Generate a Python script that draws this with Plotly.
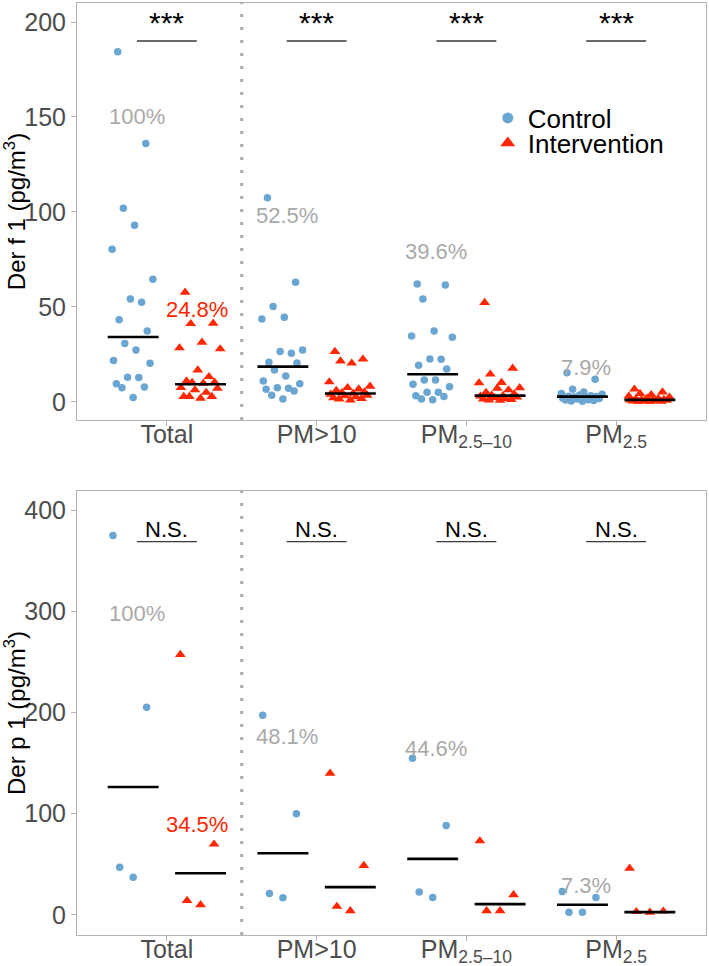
import plotly.graph_objects as go

# ---------------- data ----------------
categories = ["Total", "PM>10", "PM2.5-10", "PM2.5"]
tick_labels = ["Total", "PM&gt;10", "PM<sub>2.5\u201310</sub>", "PM<sub>2.5</sub>"]

# Der f 1 (pg/m3)
derf1_control_total = [184.4, 136, 102, 93, 80.4, 64.6, 54.2, 52.5, 43.2, 37.4, 30.7, 27.4, 21.8, 20.4, 13.0, 12.8, 9.6, 7.4, 7.9, 2.3]
derf1_interv_total = [57.7, 41.4, 41.2, 31.4, 28.4, 27.9, 16.8, 13.3, 11.0, 10.4, 10.2, 9.8, 7.5, 7.2, 6.3, 5.0, 2.8, 2.8, 2.8, 1.9]
derf1_control_pm10 = [107.5, 63, 50.2, 44.6, 43.7, 27.4, 26.5, 25.6, 20.9, 20.5, 16.8, 13.7, 11.0, 9.6, 7.5, 7.2, 6.7, 5.8, 3.5, 1.6]
derf1_interv_pm10 = [26.5, 22.5, 21.5, 20.4, 10.5, 8.2, 7.5, 6.8, 6.0, 5.2, 4.8, 4.5, 4.0, 3.5, 3.2, 2.6, 2.2, 1.8, 1.5, 1.0]
derf1_control_pm2510 = [62.1, 61.6, 54.2, 37.4, 34.7, 34.0, 22.6, 22.5, 19.3, 17.4, 11.6, 11.6, 9.3, 8.0, 5.1, 5.1, 3.2, 2.8, 1.6, 1.1]
derf1_interv_pm2510 = [52.3, 17.7, 14.6, 10.2, 10.0, 7.4, 7.2, 6.3, 5.0, 4.2, 3.5, 3.3, 3.0, 2.5, 2.2, 1.8, 1.5, 1.2, 1.0, 0.8]
derf1_control_pm25 = [15.4, 11.9, 6.7, 5.2, 4.5, 4.0, 3.6, 3.2, 3.0, 2.8, 2.6, 2.4, 2.0, 1.8, 1.5, 1.2, 1.0, 0.8, 0.5, 0.3]
derf1_interv_pm25 = [6.7, 5.2, 4.4, 3.8, 3.0, 2.5, 2.0, 1.8, 1.5, 1.3, 1.1, 1.0, 0.9, 0.8, 0.6, 0.5, 0.4, 0.3, 0.2, 0.1]
derf1_control_mid = [34.2, 18.6, 14.6, 2.8]
derf1_interv_mid = [9.3, 4.4, 3.3, 1.1]
derf1_control_pct = ["100%", "52.5%", "39.6%", "7.9%"]
derf1_interv_pct = ["24.8%", "", "", ""]
derf1_sig = ["***", "***", "***", "***"]

# Der p 1 (pg/m3)
derp1_control_total = [375, 205.3, 47, 37.2]
derp1_interv_total = [257.3, 69.8, 14.1, 9.9]
derp1_control_pm10 = [197.4, 100, 21, 16.8]
derp1_interv_pm10 = [139.9, 48.7, 8.2, 3.9]
derp1_control_pm2510 = [154.8, 88.2, 22.4, 17.1]
derp1_interv_pm2510 = [73, 19.7, 3.9, 3.9]
derp1_control_pm25 = [23, 17.1, 2.6, 2.6]
derp1_interv_pm25 = [46, 3.5, 3.0, 2.5]
derp1_control_mid = [126.4, 60.8, 55.3, 9.9]
derp1_interv_mid = [41, 27.3, 10.5, 2.6]
derp1_control_pct = ["100%", "48.1%", "44.6%", "7.3%"]
derp1_interv_pct = ["34.5%", "", "", ""]
derp1_sig = ["N.S.", "N.S.", "N.S.", "N.S."]

# ---------------- styling / placement ----------------
BLUE = "#6BA6D3"
RED = "#FF2600"
GRAY_TXT = "#A9A9A9"
AXIS_TXT = "#4D4D4D"
BORDER = "#B3B3B3"
FONT = "Liberation Sans, Arial, sans-serif"

DODGE = 0.225
HALF = 0.17

panel_top = dict(
    ctrl=[derf1_control_total, derf1_control_pm10, derf1_control_pm2510, derf1_control_pm25],
    intv=[derf1_interv_total, derf1_interv_pm10, derf1_interv_pm2510, derf1_interv_pm25],
    cmid=derf1_control_mid, imid=derf1_interv_mid,
    cpct=derf1_control_pct, ipct=derf1_interv_pct, sig=derf1_sig,
    cpct_y=[150, 98, 79, 18], ipct_y=[48.4, 0, 0, 0],
    sig_line=190, sig_text=199.5, sig_size=30, jit=0.15,
    xa="x", ya="y",
)
panel_bot = dict(
    ctrl=[derp1_control_total, derp1_control_pm10, derp1_control_pm2510, derp1_control_pm25],
    intv=[derp1_interv_total, derp1_interv_pm10, derp1_interv_pm2510, derp1_interv_pm25],
    cmid=derp1_control_mid, imid=derp1_interv_mid,
    cpct=derp1_control_pct, ipct=derp1_interv_pct, sig=derp1_sig,
    cpct_y=[298, 176, 164, 28.6], ipct_y=[89, 0, 0, 0],
    sig_line=369, sig_text=381, sig_size=22, jit=0.18,
    xa="x2", ya="y2",
)


def vdc(n, base=2):
    v, denom = 0.0, 1.0
    while n:
        denom *= base
        n, rem = divmod(n, base)
        v += rem / denom
    return v


def jitter_x(values, center, width):
    order = sorted(range(len(values)), key=lambda i: values[i])
    xs = [0.0] * len(values)
    for rank, i in enumerate(order, start=1):
        xs[i] = center + (vdc(rank) - 0.5) * 2 * width
    return xs


fig = go.Figure()
annotations = []
shapes = []

for p in (panel_top, panel_bot):
    for k in range(len(categories)):
        for vals, off, sym, col, sz in ((p["ctrl"][k], -DODGE, "circle", BLUE, 7.5),
                                        (p["intv"][k], DODGE, "triangle-up", RED, 9.5)):
            fig.add_trace(go.Scatter(
                x=jitter_x(vals, k + off, p["jit"]), y=vals, mode="markers",
                marker=dict(symbol=sym, color=col, size=sz, line=dict(width=0)),
                xaxis=p["xa"], yaxis=p["ya"], showlegend=False, hoverinfo="y"))
    # median lines
    mx, my = [], []
    for k in range(len(categories)):
        for m, off in ((p["cmid"][k], -DODGE), (p["imid"][k], DODGE)):
            mx += [k + off - HALF, k + off + HALF, None]
            my += [m, m, None]
    fig.add_trace(go.Scatter(x=mx, y=my, mode="lines", line=dict(color="black", width=2.6),
                             xaxis=p["xa"], yaxis=p["ya"], showlegend=False, hoverinfo="skip"))
    # significance bars
    sx, sy = [], []
    for k in range(len(categories)):
        sx += [k - 0.2, k + 0.2, None]
        sy += [p["sig_line"], p["sig_line"], None]
        annotations.append(dict(x=k, y=p["sig_text"], xref=p["xa"], yref=p["ya"], text=p["sig"][k],
                                showarrow=False, font=dict(size=p["sig_size"], color="black", family=FONT)))
        if p["cpct"][k]:
            annotations.append(dict(x=k - 0.2, y=p["cpct_y"][k], xref=p["xa"], yref=p["ya"], text=p["cpct"][k],
                                    showarrow=False, font=dict(size=22, color=GRAY_TXT, family=FONT)))
        if p["ipct"][k]:
            annotations.append(dict(x=k + 0.2, y=p["ipct_y"][k], xref=p["xa"], yref=p["ya"], text=p["ipct"][k],
                                    showarrow=False, font=dict(size=22, color=RED, family=FONT)))
    fig.add_trace(go.Scatter(x=sx, y=sy, mode="lines", line=dict(color="#3A3A3A", width=1.3),
                             xaxis=p["xa"], yaxis=p["ya"], showlegend=False, hoverinfo="skip"))
    shapes.append(dict(type="line", xref=p["xa"], yref=p["ya"] + " domain", x0=0.5, x1=0.5, y0=0, y1=1,
                       line=dict(color="#A8A8A8", width=3, dash="3px,10px")))

# legend entries (two single-item legends to match the tight spacing)
fig.add_trace(go.Scatter(x=[None], y=[None], mode="markers", name="Control", legend="legend",
                         marker=dict(symbol="circle", color=BLUE, size=11)))
fig.add_trace(go.Scatter(x=[None], y=[None], mode="markers", name="Intervention", legend="legend2",
                         marker=dict(symbol="triangle-up", color=RED, size=13)))

xcommon = dict(range=[-0.6, 3.6], tickvals=list(range(len(categories))), ticktext=tick_labels,
               showgrid=False, zeroline=False, showline=True, mirror=True, linecolor=BORDER, linewidth=1,
               ticks="outside", ticklen=5, tickcolor=BORDER, ticklabelstandoff=-13,
               tickfont=dict(size=25, color=AXIS_TXT, family=FONT), automargin=False)
ycommon = dict(showgrid=False, zeroline=False, showline=True, mirror=True, linecolor=BORDER, linewidth=1,
               ticks="outside", ticklen=5, tickcolor=BORDER,
               tickfont=dict(size=25, color=AXIS_TXT, family=FONT), automargin=False)

legend_common = dict(xanchor="left", yanchor="middle", bgcolor="rgba(0,0,0,0)",
                     font=dict(size=26, color="black", family=FONT), itemwidth=30)

fig.update_layout(
    width=709, height=966,
    margin=dict(l=77, r=3, t=3, b=31),
    paper_bgcolor="white", plot_bgcolor="white",
    font=dict(family=FONT),
    xaxis=dict(xcommon, domain=[0, 1], anchor="y"),
    yaxis=dict(ycommon, domain=[0.5526, 1.0], anchor="x", range=[-9.5, 210], tickvals=[0, 50, 100, 150, 200],
               title=dict(text="Der f 1 (pg/m<sup>3</sup>)", font=dict(size=24, color="black", family=FONT), standoff=0)),
    xaxis2=dict(xcommon, domain=[0, 1], anchor="y2"),
    yaxis2=dict(ycommon, domain=[0.0, 0.4764], anchor="x2", range=[-20, 419], tickvals=[0, 100, 200, 300, 400],
                title=dict(text="Der p 1 (pg/m<sup>3</sup>)", font=dict(size=24, color="black", family=FONT), standoff=0)),
    legend=dict(legend_common, x=0.653, y=0.8766),
    legend2=dict(legend_common, x=0.653, y=0.8498),
    showlegend=True,
    annotations=annotations,
    shapes=shapes,
)

fig.write_html("out.html", config={"displayModeBar": False},
               post_script="document.body.style.margin='0px';")
